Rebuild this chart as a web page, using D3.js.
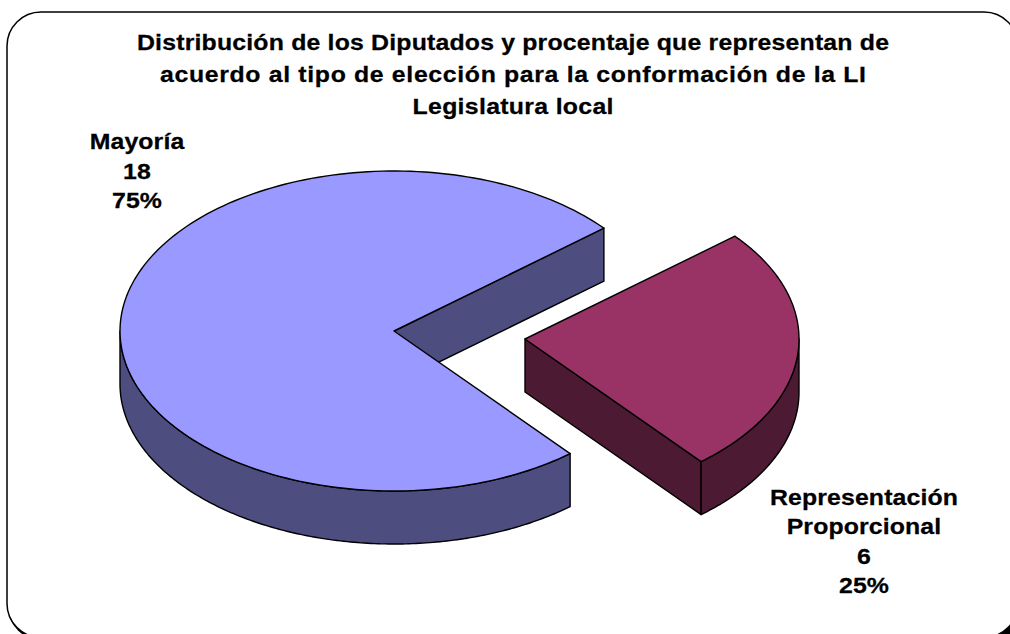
<!DOCTYPE html>
<html>
<head>
<meta charset="utf-8">
<script src="https://cdn.jsdelivr.net/npm/d3@7"></script>
<style>
html,body{margin:0;padding:0;background:#fff;overflow:hidden}
svg{display:block}
text{font-family:"Liberation Sans",Arial,sans-serif;font-weight:bold;fill:#000;stroke:#000;stroke-width:.25;text-anchor:middle}
</style>
</head>
<body>
<svg id="chart" width="1010" height="634"></svg>
<script>
const categories = ["Representación Proporcional", "Mayoría"];
const seats = [6, 18];
const shares = ["25%", "75%"];
const topColors = ["#993366", "#9999ff"];
const wallColors = ["#4d1a33", "#4d4d80"];
const titleLines = [
  "Distribución de los Diputados y procentaje que representan de",
  "acuerdo al tipo de elección para la conformación de la LI",
  "Legislatura local"
];
const titleWidths = [752, 706, 201];
const labelLines = [
  ["Representación", "Proporcional", String(seats[0]), shares[0]],
  [categories[1], String(seats[1]), shares[1]]
];

const svg = d3.select("#chart");

// Rounded chart frame with its dark drop shadow; it runs past the page edge
const frame = {x: 7, y: 12, w: 1011, h: 625.5, r: 34};
svg.append("rect")
  .attr("x", 985).attr("y", 610).attr("width", 25).attr("height", 24)
  .attr("fill", "#000");
svg.append("rect")
  .attr("x", frame.x + 1).attr("y", frame.y + 3)
  .attr("width", frame.w).attr("height", frame.h)
  .attr("rx", frame.r).attr("ry", frame.r)
  .attr("fill", "#000");
svg.append("rect")
  .attr("x", frame.x).attr("y", frame.y)
  .attr("width", frame.w).attr("height", frame.h)
  .attr("rx", frame.r).attr("ry", frame.r)
  .attr("fill", "#fff").attr("stroke", "#000").attr("stroke-width", 1.5);

// Projection of the tilted disc: unit circle onto an ellipse
const rx = 274, ry = 160, depth = 53;
const centers = [{x: 525, y: 339}, {x: 394, y: 331}];
const pie = d3.pie().sort(null)
  .startAngle(50 * Math.PI / 180)
  .endAngle(410 * Math.PI / 180);
const slices = pie(seats);

const ux = d3.scaleLinear().domain([-1, 1]).range([-rx, rx]);
const uy = d3.scaleLinear().domain([-1, 1]).range([-ry, ry]);
const pt = a => [ux(Math.sin(a)), uy(-Math.cos(a))];
const line = d3.line();
const arcPts = (a0, a1) => d3.range(0, 181).map(i => pt(a0 + (a1 - a0) * i / 180));

function drawSlice(slice, i) {
  const c = centers[i];
  const g = svg.append("g").attr("transform", `translate(${c.x},${c.y})`);
  const a0 = slice.startAngle, a1 = slice.endAngle;
  const paint = (d, fill) => g.append("path")
    .attr("d", d)
    .attr("fill", fill)
    .attr("stroke", "#000")
    .attr("stroke-width", 1.4)
    .attr("stroke-linejoin", "round");
  const wallQuad = a => {
    const p = pt(a);
    return line([[0, 0], p, [p[0], p[1] + depth], [0, depth]]) + "Z";
  };

  // Cut face at the clockwise end of the slice
  paint(wallQuad(a1), wallColors[i]);

  // Outer rim, only the half of the ellipse that faces front
  const lo = Math.max(a0, Math.PI / 2), hi = Math.min(a1, 3 * Math.PI / 2);
  if (hi > lo) {
    const top = arcPts(lo, hi);
    const bottom = top.map(p => [p[0], p[1] + depth]).reverse();
    paint(line(top.concat(bottom)) + "Z", wallColors[i]);
  }

  // Top surface
  paint(line([[0, 0], ...arcPts(a0, a1)]) + "Z", topColors[i]);
}

// Mayoría first, the detached slice over it
drawSlice(slices[1], 1);
drawSlice(slices[0], 0);

// All text is set slightly wide
const widen = 1.13;

// Title, each line spaced out to its set width
svg.append("g").selectAll("text").data(titleLines).join("text")
  .attr("transform", (d, i) => `translate(513,${49.5 + i * 32}) scale(${widen},1)`)
  .attr("font-size", 22)
  .attr("textLength", (d, i) => titleWidths[i] / widen)
  .attr("lengthAdjust", "spacing")
  .text(d => d);

// Data labels
const labelPos = [{x: 864, y: 504.5}, {x: 137, y: 149}];
labelLines.forEach((lines, i) => {
  svg.append("g").selectAll("text").data(lines).join("text")
    .attr("transform", (d, j) => `translate(${labelPos[i].x},${labelPos[i].y + j * 29.5}) scale(${widen},1)`)
    .attr("font-size", 22)
    .attr("letter-spacing", 0.1)
    .text(d => d);
});
</script>
</body>
</html>
